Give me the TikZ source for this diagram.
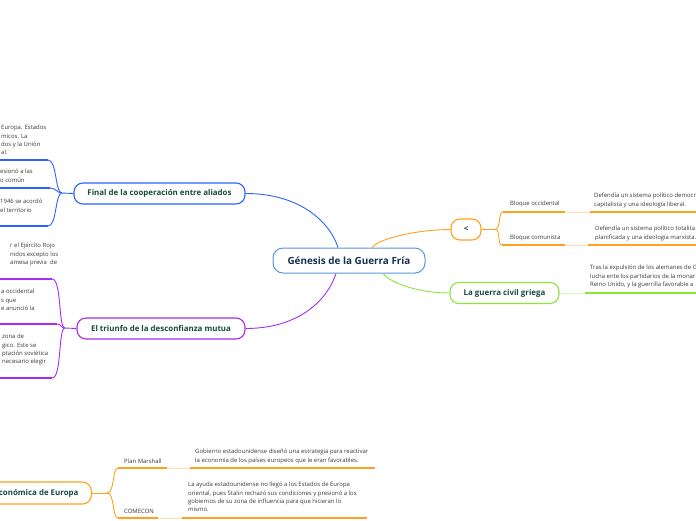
\documentclass[tikz,border=0pt]{standalone}
\usepackage{fontspec}
\setmainfont{Open Sans}
\usetikzlibrary{positioning,calc}
\definecolor{mmblue}{RGB}{41,98,255}
\definecolor{mmpurple}{RGB}{168,44,240}
\definecolor{mmorange}{RGB}{255,160,30}
\definecolor{mmgreen}{RGB}{140,228,60}
\definecolor{mmcenter}{RGB}{84,152,222}
\definecolor{mmtitle}{RGB}{24,48,80}
\definecolor{mmtopic}{RGB}{22,74,60}
\definecolor{mmtext}{RGB}{55,55,55}

\begin{document}
\begin{tikzpicture}[x=1pt, y=-1pt,
  root/.style={draw=mmcenter, line width=1pt, rounded corners=10pt, fill=white,
               text=mmtitle, font=\fontsize{9.9}{11}\selectfont\bfseries,
               minimum width=152pt, minimum height=25pt, inner sep=0pt},
  topic/.style={draw=#1, line width=1.1pt, rounded corners=9pt, fill=white,
                text=mmtopic, font=\fontsize{7.9}{9}\selectfont\bfseries,
                minimum height=21pt, inner sep=0pt},
  txt/.style={font=\fontsize{5.95}{8.3}\selectfont, text=mmtext, align=left,
              inner sep=0pt, anchor=north west},
  under/.style={draw=#1, line width=1.5pt},
  link/.style={draw=#1, line width=0.9pt},
  faint/.style={draw=#1!35, line width=1pt},
]
\useasboundingbox (0,0) rectangle (696,520);
\clip (0,0) rectangle (696,520);

\node[root]                                      (gen) at (349,260.5) {Génesis de la Guerra Fría};
\node[topic=mmblue, minimum width=171pt]         (fin) at (159.5,193.5) {Final de la cooperación entre aliados};
\node[topic=mmpurple, minimum width=168pt]       (tri) at (161,328.5) {El triunfo de la desconfianza mutua};
\node[topic=mmorange, minimum width=30pt]        (lt)  at (466,229.5) {<};
\node[topic=mmgreen, minimum width=109pt]        (civ) at (504.5,293) {La guerra civil griega};
\node[topic=mmorange, minimum height=22pt, inner xsep=13pt, anchor=east] (eco) at (92,493) {conómica de Europa};

\draw[link=mmblue]   (fin.east) .. controls +(55,0) and +(-8,-25) .. ($(gen.north)+(-11,0)$);
\draw[link=mmpurple] (tri.east) .. controls +(55,0) and +(-8,25) .. ($(gen.south)+(-13,0)$);
\draw[link=mmorange] ($(gen.north)+(23,0)$) .. controls +(8,-10) and +(-30,0) .. (lt.west);
\draw[link=mmgreen]  ($(gen.south)+(34,0)$) .. controls +(8,10) and +(-30,0) .. (civ.west);

\coordinate (jb) at (62,193);
\coordinate (b1) at (0,160);  \coordinate (b1e) at (48,160);
\coordinate (b2) at (0,188);  \coordinate (b2e) at (50,188);
\coordinate (b3) at (0,226);  \coordinate (b3e) at (48,226);
\draw[link=mmblue] (fin.west) -- (jb);
\draw[under=mmblue] (b1) -- (b1e);
\draw[under=mmblue] (b2) -- (b2e);
\draw[under=mmblue] (b3) -- (b3e);
\draw[link=mmblue] (b1e) .. controls +(9,0) and +(-7,0) .. (jb);
\draw[link=mmblue] (b2e) .. controls +(6,0) and +(-5,0) .. (jb);
\draw[link=mmblue] (b3e) .. controls +(9,0) and +(-7,0) .. (jb);

\coordinate (jp) at (65,328);
\coordinate (p1) at (0,279);  \coordinate (p1e) at (52,279);
\coordinate (p2) at (0,324);  \coordinate (p2e) at (57,324);
\coordinate (p3) at (0,378);  \coordinate (p3e) at (52,378);
\draw[link=mmpurple] (tri.west) -- (jp);
\draw[under=mmpurple] (p1) -- (p1e);
\draw[under=mmpurple] (p2) -- (p2e);
\draw[under=mmpurple] (p3) -- (p3e);
\draw[link=mmpurple] (p1e) .. controls +(10,0) and +(-7,0) .. (jp);
\draw[link=mmpurple] (p2e) .. controls +(4,0) and +(-4,0) .. (jp);
\draw[link=mmpurple] (p3e) .. controls +(10,0) and +(-7,0) .. (jp);

\coordinate (jo) at (495,229.5);
\coordinate (o1) at (503,212);  \coordinate (o1e) at (565,212);
\coordinate (o1f) at (590,212); \coordinate (o1g) at (696,212);
\coordinate (o2) at (502,245);  \coordinate (o2e) at (565,245);
\coordinate (o2f) at (588,245); \coordinate (o2g) at (696,245);
\draw[link=mmorange] (lt.east) -- (jo);
\draw[link=mmorange] (jo) .. controls +(6,0) and +(-5,0) .. (o1);
\draw[link=mmorange] (jo) .. controls +(6,0) and +(-5,0) .. (o2);
\draw[under=mmorange] (o1) -- (o1e);
\draw[faint=mmorange] (o1e) -- (o1f);
\draw[under=mmorange] (o1f) -- (o1g);
\draw[under=mmorange] (o2) -- (o2e);
\draw[faint=mmorange] (o2e) -- (o2f);
\draw[under=mmorange] (o2f) -- (o2g);

\coordinate (g1) at (585,293);  \coordinate (g2) at (696,293);
\draw[faint=mmgreen] (civ.east) -- (g1);
\draw[under=mmgreen] (g1) -- (g2);

\coordinate (jq) at (107,493);
\coordinate (q1) at (118,468);  \coordinate (q1e) at (167,468);
\coordinate (q1f) at (190,468); \coordinate (q1g) at (375,468);
\coordinate (q2) at (118,518);  \coordinate (q2e) at (158,518);
\coordinate (q2f) at (182,518); \coordinate (q2g) at (367,518);
\draw[link=mmorange] (eco.east) -- (jq);
\draw[link=mmorange] (jq) .. controls +(8,0) and +(-6,0) .. (q1);
\draw[link=mmorange] (jq) .. controls +(8,0) and +(-6,0) .. (q2);
\draw[under=mmorange] (q1) -- (q1e);
\draw[faint=mmorange] (q1e) -- (q1f);
\draw[under=mmorange] (q1f) -- (q1g);
\draw[under=mmorange] (q2) -- (q2e);
\draw[faint=mmorange] (q2e) -- (q2f);
\draw[under=mmorange] (q2f) -- (q2g);

\node[txt] (t1) at (1,125) {Europa. Estados\\micos. La\\dos y la Unión\\al.};
\node[txt] (t2) at (0,169) {esionó a las\\o común};
\node[txt] (t3) at (0,199) {1946 se acordó\\el territorio};
\node[txt] (t4) at (10,243) {r el Ejército Rojo\\nidos excepto los\\amesa previa\ \ de};
\node[txt] (t5) at (1,289) {a occidental\\s que\\e anunció la};
\node[txt] (t6) at (2,334) {zona de\\gico. Este se\\ptación soviética\\necesario elegir};
\node[txt, anchor=west] (t7) at (510,204) {Bloque occidental};
\node[txt] (t8) at (594,193) {Defendía un sistema político democr\\capitalista y una ideología liberal.};
\node[txt, anchor=west] (t9) at (510,238) {Bloque comunista};
\node[txt] (t10) at (595,226) {Defendía un sistema político totalita\\planificada y una ideología marxista.};
\node[txt] (t11) at (590,265) {Tras la expulsión de los alemanes de G\\lucha ente los partidarios de la monar\\Reino Unido, y la guerrilla favorable a};
\node[txt, anchor=west] (t12) at (124,461) {Plan Marshall};
\node[txt] (t13) at (195,449) {Gobierno estadounidense diseñó una estrategia para reactivar\\la economía de los países europeos que le eran favorables.};
\node[txt, anchor=west] (t14) at (124,511) {COMECON};
\node[txt] (t15) at (188,482) {La ayuda estadounidense no llegó a los Estados de Europa\\oriental, pues Stalin rechazó sus condiciones y presionó a los\\gobiernos de su zona de influencia para que hicieran lo\\mismo.};
\end{tikzpicture}
\end{document}
